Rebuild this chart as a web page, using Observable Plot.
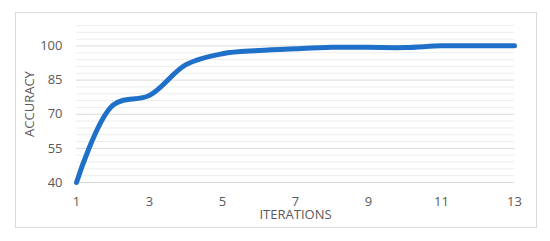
<!DOCTYPE html>
<html>
<head>
<meta charset="utf-8">
<script src="https://cdn.jsdelivr.net/npm/d3@7"></script>
<script src="https://cdn.jsdelivr.net/npm/@observablehq/plot@0.6"></script>
<style>
  html, body { margin: 0; padding: 0; background: #fff; }
  #wrap { position: relative; width: 550px; height: 241px; }
  #border { position: absolute; left: 15px; top: 12px; width: 520px; height: 214px; border: 1px solid #d9d9d9; pointer-events: none; }
</style>
</head>
<body>
<div id="wrap"><div id="border"></div></div>
<script>
const iterations = [1, 2, 3, 4, 5, 6, 7, 8, 9, 10, 11, 12, 13];
const accuracy = [40, 74, 78.3, 91.8, 96.6, 98, 98.8, 99.4, 99.4, 99.3, 100.1, 100.1, 100.1];
const xTicks = [1, 3, 5, 7, 9, 11, 13];
const yTicks = [40, 55, 70, 85, 100];
const minorGrid = d3.range(40, 110, 3).filter(v => !yTicks.includes(v));

const data = iterations.map((x, i) => ({x, y: accuracy[i]}));

const chart = Plot.plot({
  width: 550,
  height: 241,
  marginLeft: 76,
  marginRight: 36,
  marginTop: 25,
  marginBottom: 59,
  style: {fontFamily: "'Open Sans', sans-serif", fontSize: "13px", color: "#595959", background: "transparent"},
  x: {domain: [1, 13]},
  y: {domain: [40, 109]},
  marks: [
    Plot.ruleY(minorGrid, {stroke: "#ededed", strokeWidth: 1}),
    Plot.ruleY(yTicks, {stroke: "#d9d9d9", strokeWidth: 1}),
    Plot.axisY(yTicks, {tickSize: 0, tickPadding: 14, label: null, fill: "#595959", fontSize: 13}),
    Plot.axisX(xTicks, {tickSize: 0, tickPadding: 14, label: null, fill: "#595959", fontSize: 13}),
    Plot.line(data, {x: "x", y: "y", curve: "catmull-rom", stroke: "#1f70c8", strokeWidth: 5}),
    Plot.text(["ACCURACY"], {frameAnchor: "left", textAnchor: "middle", lineAnchor: "middle", dx: -47, rotate: -90, fill: "#595959", fontSize: 13}),
    Plot.text(["ITERATIONS"], {frameAnchor: "bottom", textAnchor: "middle", dy: 36, fill: "#595959", fontSize: 13})
  ]
});
document.getElementById("wrap").appendChild(chart);
chart.style.position = "absolute";
chart.style.left = "0";
chart.style.top = "0";
</script>
</body>
</html>
